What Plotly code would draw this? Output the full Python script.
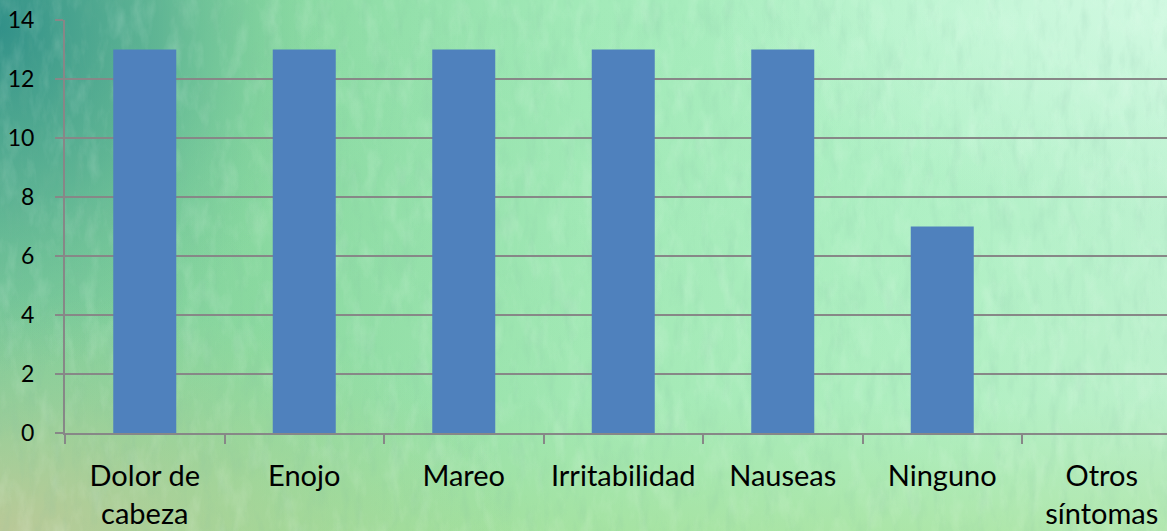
import urllib.parse
import plotly.graph_objects as go

# ---- data ----
categories = ["Dolor de cabeza", "Enojo", "Mareo", "Irritabilidad", "Nauseas", "Ninguno", "Otros síntomas"]
tick_labels = ["Dolor de<br>cabeza", "Enojo", "Mareo", "Irritabilidad", "Nauseas", "Ninguno", "Otros<br>síntomas"]
values = [13, 13, 13, 13, 13, 7, 0]
y_ticks = [0, 2, 4, 6, 8, 10, 12, 14]

W, H = 1167, 531
ML, MR, MT, MB = 65, 0, 20, 98
PW, PH = W - ML - MR, H - MT - MB

svg = f"""<svg xmlns='http://www.w3.org/2000/svg' width='{W}' height='{H}' viewBox='0 0 {W} {H}' preserveAspectRatio='none'>
<defs>
<linearGradient id='h' x1='0' y1='0' x2='1' y2='0'>
<stop offset='0' stop-color='#76c69a'/>
<stop offset='0.22' stop-color='#88d8a0'/>
<stop offset='0.5' stop-color='#a2eab8'/>
<stop offset='0.8' stop-color='#b2f2c8'/>
<stop offset='1' stop-color='#c0f4d4'/>
</linearGradient>
<linearGradient id='v' x1='0' y1='0' x2='0' y2='1'>
<stop offset='0' stop-color='#7fd49e' stop-opacity='0.0'/>
<stop offset='0.75' stop-color='#a2de9a' stop-opacity='0.15'/>
<stop offset='1' stop-color='#a8dc90' stop-opacity='0.55'/>
</linearGradient>
<radialGradient id='tl' cx='0' cy='0.05' r='0.5' gradientTransform='translate(0 0.05) scale(0.55 1.3) translate(0 -0.05)'>
<stop offset='0' stop-color='#2e8e88' stop-opacity='0.95'/>
<stop offset='0.5' stop-color='#4aa48e' stop-opacity='0.6'/>
<stop offset='1' stop-color='#6cc094' stop-opacity='0'/>
</radialGradient>
<radialGradient id='bl' cx='0' cy='1' r='0.45'>
<stop offset='0' stop-color='#bcc898' stop-opacity='0.95'/>
<stop offset='1' stop-color='#a8d898' stop-opacity='0'/>
</radialGradient>
<radialGradient id='tr' cx='1' cy='0' r='0.4'>
<stop offset='0' stop-color='#d4fae4' stop-opacity='0.8'/>
<stop offset='1' stop-color='#d4fae4' stop-opacity='0'/>
</radialGradient>
<filter id='nl' x='0' y='0' width='100%' height='100%'>
<feTurbulence type='fractalNoise' baseFrequency='0.06 0.025' numOctaves='4' seed='7'/>
<feColorMatrix type='matrix' values='0 0 0 0 0.92  0 0 0 0 1  0 0 0 0 0.94  1.5 0 0 0 -0.72'/>
</filter>
<filter id='nd' x='0' y='0' width='100%' height='100%'>
<feTurbulence type='fractalNoise' baseFrequency='0.08 0.025' numOctaves='4' seed='21'/>
<feColorMatrix type='matrix' values='0 0 0 0 0.22  0 0 0 0 0.5  0 0 0 0 0.36  0 1.5 0 0 -0.74'/>
</filter>
</defs>
<rect width='100%' height='100%' fill='url(#h)'/>
<rect width='100%' height='100%' fill='url(#v)'/>
<rect width='100%' height='100%' fill='url(#bl)'/>
<rect width='100%' height='100%' fill='url(#tr)'/>
<rect width='100%' height='100%' fill='url(#tl)'/>
<rect width='100%' height='100%' filter='url(#nl)' opacity='0.25'/>
<rect width='100%' height='100%' filter='url(#nd)' opacity='0.25'/>
</svg>"""

bg_src = "data:image/svg+xml;charset=utf-8," + urllib.parse.quote(svg)

grid_col = "#878787"

fig = go.Figure(
    go.Bar(
        x=categories,
        y=values,
        marker=dict(color="#4F81BD", line=dict(width=0)),
        width=0.395,
        hoverinfo="skip",
    )
)

last_cut = (ML + 7 * 159.5 - W) / 159.5

fig.update_layout(
    width=W,
    height=H,
    margin=dict(l=ML, r=MR, t=MT, b=MB),
    paper_bgcolor="#9fdcb0",
    plot_bgcolor="rgba(0,0,0,0)",
    showlegend=False,
    font=dict(family="Lato, 'Open Sans', sans-serif", color="#000000"),
    images=[
        dict(
            source=bg_src,
            xref="paper", yref="paper",
            x=-ML / PW, y=1 + MT / PH,
            sizex=W / PW, sizey=H / PH,
            xanchor="left", yanchor="top",
            sizing="stretch",
            layer="below",
        )
    ],
    xaxis=dict(
        type="category",
        categoryorder="array",
        categoryarray=categories,
        tickvals=categories,
        ticktext=tick_labels,
        range=[-0.5, 6.5 - last_cut],
        tickson="boundaries",
        ticks="outside",
        ticklen=9,
        tickwidth=2,
        tickcolor=grid_col,
        showline=True,
        linecolor=grid_col,
        linewidth=2,
        showgrid=False,
        zeroline=False,
        tickfont=dict(size=29, family="Lato", color="#000000"),
        ticklabelstandoff=16,
        fixedrange=True,
    ),
    yaxis=dict(
        range=[0, 14],
        tickvals=y_ticks,
        ticks="outside",
        ticklen=8,
        tickwidth=2,
        tickcolor=grid_col,
        showline=True,
        linecolor=grid_col,
        linewidth=2,
        showgrid=True,
        gridcolor=grid_col,
        gridwidth=1.7,
        zeroline=False,
        tickfont=dict(size=23, family="Lato", color="#000000"),
        ticklabelstandoff=16,
        fixedrange=True,
    ),
)

fig.write_html(
    "out.html",
    config={"displayModeBar": False},
    post_script="document.body.style.margin='0';document.body.style.padding='0';document.documentElement.style.overflow='hidden';",
)
